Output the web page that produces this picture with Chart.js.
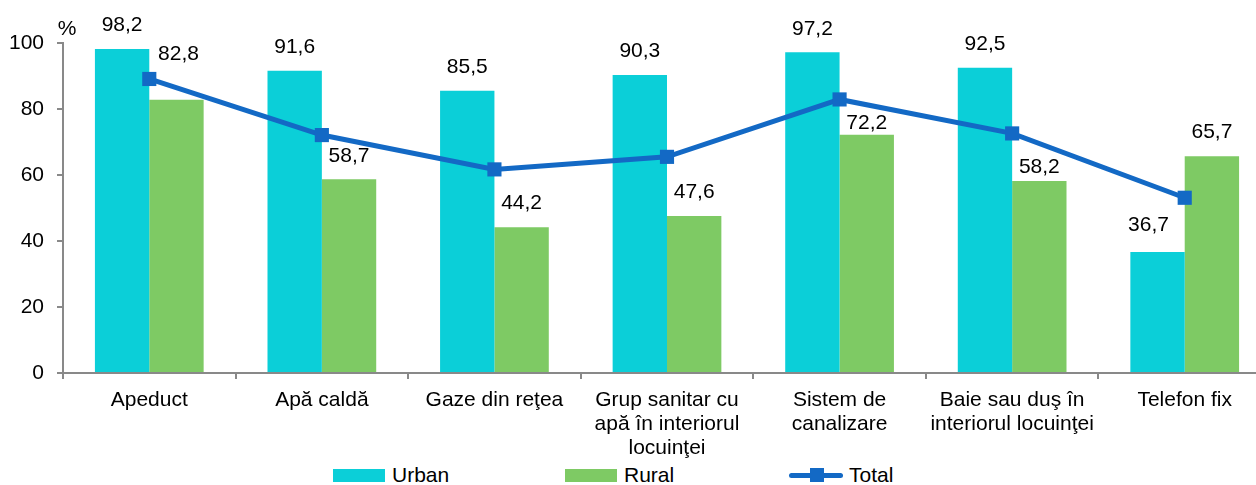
<!DOCTYPE html>
<html>
<head>
<meta charset="utf-8">
<script src="https://cdn.jsdelivr.net/npm/chart.js@4"></script>
<style>
  html, body { margin: 0; padding: 0; background: #fff; overflow: hidden; }
  #wrap { position: relative; width: 1256px; height: 485px; overflow: hidden; }
  #c { position: absolute; left: 0; top: 0; }
  .lg { position: absolute; top: 462px; height: 26px; font: 21px "Liberation Sans", Arial, sans-serif; color: #000; }
  .lg span { position: absolute; top: 1px; white-space: nowrap; }
  .sw { position: absolute; top: 7px; width: 52px; height: 13px; }
</style>
</head>
<body>
<div id="wrap">
  <canvas id="c" width="1271" height="462"></canvas>
  <!-- legend -->
  <div class="lg" style="left:333px"><div class="sw" style="background:#0BCFD8"></div><span style="left:59px">Urban</span></div>
  <div class="lg" style="left:565px"><div class="sw" style="background:#7ECA64"></div><span style="left:59px">Rural</span></div>
  <div class="lg" style="left:789px">
    <div style="position:absolute;top:11px;left:0;width:54px;height:5px;border-radius:3px;background:#1369C5"></div>
    <div style="position:absolute;top:6px;left:21px;width:14px;height:14px;background:#1369C5"></div>
    <span style="left:60px">Total</span>
  </div>
</div>
<script>
// categorii
const categories = [
  "Apeduct",
  "Apă caldă",
  "Gaze din reţea",
  ["Grup sanitar cu", "apă în interiorul", "locuinţei"],
  ["Sistem de", "canalizare"],
  ["Baie sau duş în", "interiorul locuinţei"],
  "Telefon fix"
];

// valori (%)
const urban = [98.2, 91.6, 85.5, 90.3, 97.2, 92.5, 36.7];
const rural = [82.8, 58.7, 44.2, 47.6, 72.2, 58.2, 65.7];
const total = [89.1, 72.1, 61.7, 65.5, 82.9, 72.6, 53.1];

const yTicks = [0, 20, 40, 60, 80, 100];

const FONT = "Liberation Sans, Arial, sans-serif";
const AXIS = "#898989";

// etichete de date (deplasari manuale ca in original)
const nudge = {
  "0-6": [-9, -3.5],
  "1-0": [2, -22.5],
  "1-4": [0, 11.5],
  "1-5": [0, 10]
};

const labelsPlugin = {
  id: "barLabels",
  afterDatasetsDraw(chart) {
    const ctx = chart.ctx;
    ctx.save();
    ctx.font = "21px " + FONT;
    ctx.fillStyle = "#000";
    ctx.textAlign = "center";
    ctx.textBaseline = "middle";
    [0, 1].forEach(di => {
      const meta = chart.getDatasetMeta(di);
      meta.data.forEach((bar, i) => {
        const v = chart.data.datasets[di].data[i];
        const n = nudge[di + "-" + i] || [0, 0];
        ctx.fillText(v.toFixed(1).replace(".", ","), bar.x + n[0], bar.y - 23.5 + n[1]);
      });
    });
    // unitate
    ctx.fillText("%", 67, 29);
    ctx.restore();
  }
};

new Chart(document.getElementById("c"), {
  type: "bar",
  data: {
    labels: categories,
    datasets: [
      {
        label: "Urban",
        data: urban,
        backgroundColor: "#0BCFD8",
        borderWidth: 0,
        categoryPercentage: 0.63,
        barPercentage: 1.0
      },
      {
        label: "Rural",
        data: rural,
        backgroundColor: "#7ECA64",
        borderWidth: 0,
        categoryPercentage: 0.63,
        barPercentage: 1.0
      },
      {
        type: "line",
        label: "Total",
        data: total,
        order: -1,
        borderColor: "#1369C5",
        backgroundColor: "#1369C5",
        borderWidth: 5,
        tension: 0,
        pointStyle: "rect",
        pointRadius: 10,
        pointBorderWidth: 0,
        pointBackgroundColor: "#1369C5"
      }
    ]
  },
  options: {
    responsive: false,
    animation: false,
    devicePixelRatio: 1,
    layout: { autoPadding: false, padding: { top: 43, left: 0, right: 0, bottom: 0 } },
    plugins: {
      legend: { display: false },
      tooltip: { enabled: false }
    },
    scales: {
      x: {
        offset: true,
        grid: { offset: true, drawOnChartArea: false, drawTicks: true, tickLength: 6, color: AXIS, lineWidth: 2 },
        border: { display: true, color: AXIS, width: 2 },
        ticks: {
          autoSkip: false,
          maxRotation: 0,
          padding: 9,
          color: "#000",
          font: { family: FONT, size: 21, lineHeight: 1.15 }
        },
        afterFit(scale) { scale.height = 89; }
      },
      y: {
        min: 0,
        max: 100,
        afterBuildTicks(scale) { scale.ticks = yTicks.map(v => ({ value: v })); },
        grid: { drawOnChartArea: false, drawTicks: true, tickLength: 6, color: AXIS, lineWidth: 2 },
        border: { display: true, color: AXIS, width: 2 },
        ticks: {
          padding: 13,
          color: "#000",
          font: { family: FONT, size: 21 }
        },
        afterFit(scale) { scale.width = 63; }
      }
    }
  },
  plugins: [labelsPlugin]
});
</script>
</body>
</html>
